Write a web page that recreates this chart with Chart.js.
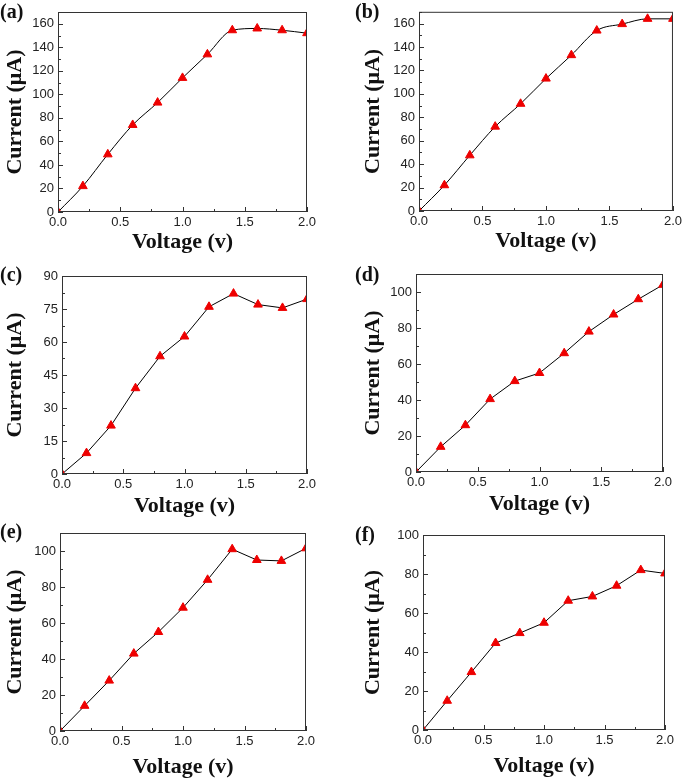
<!DOCTYPE html>
<html>
<head>
<meta charset="utf-8">
<script src="https://cdn.jsdelivr.net/npm/chart.js@4.4.1/dist/chart.umd.min.js"></script>
<style>
  html, body { margin: 0; padding: 0; background: #fff; }
  #wrap { position: relative; width: 685px; height: 782px; overflow: hidden; }
  .panel { position: absolute; }
  .tag { position: absolute; font: bold 20px "Liberation Serif", serif; color: #111; }
</style>
</head>
<body>
<div id="wrap"></div>
<script>
// Voltage sweep, same for all panels
const voltage = [0, 0.2, 0.4, 0.6, 0.8, 1.0, 1.2, 1.4, 1.6, 1.8, 2.0];

// Current (uA)
const currentA = [0, 22, 49, 74, 93, 114, 134, 154.5, 156, 154.5, 152];
const currentB = [0, 22, 47.5, 72, 91.5, 113, 133, 154, 159.5, 164, 164];
const currentC = [0, 9.5, 22, 39, 53.5, 62.5, 76, 82, 77, 75.5, 79.5];
const currentD = [0, 14, 26, 40.5, 50.5, 55, 66, 78, 87.5, 96, 104];
const currentE = [0, 14, 28, 43, 55, 68.5, 84, 101, 95, 94.5, 101.5];
const currentF = [0, 15, 29.7, 44.6, 49.7, 55, 66.3, 68.5, 74, 82, 80.3];

const panelLabels = ['(a)', '(b)', '(c)', '(d)', '(e)', '(f)'];
const yMaxes = [170, 170, 90, 110, 110, 100];
const ySteps = [20, 20, 15, 20, 20, 20];

// layout of each panel box on the page (x, y, w, h) and its plot rect
const panels = [
    { x: 0,   y: 0,   w: 342, h: 255, L: 58, R: 307, T: 12, B: 212, yTitle: 2,  xGap: 45, tag: [0, 0] },
    { x: 340, y: 0,   w: 345, h: 255, L: 79, R: 334, T: 5,  B: 211, yTitle: 20, xGap: 45, tag: [15, 0] },
    { x: 0,   y: 255, w: 342, h: 262, L: 62, R: 307, T: 21, B: 219, yTitle: 2,  xGap: 47, tag: [0, 263] },
    { x: 340, y: 255, w: 345, h: 262, L: 76, R: 323, T: 19, B: 217, yTitle: 20, xGap: 47, tag: [15, 263] },
    { x: 0,   y: 517, w: 342, h: 265, L: 60, R: 306, T: 16, B: 214, yTitle: 2,  xGap: 51, tag: [0, 520] },
    { x: 340, y: 517, w: 345, h: 265, L: 83, R: 325, T: 18, B: 213, yTitle: 20, xGap: 51, tag: [15, 523] }
];

const series = [currentA, currentB, currentC, currentD, currentE, currentF];

// frame around the plot plus inward major/minor ticks
const framePlugin = {
    id: 'frame',
    afterDraw(chart) {
        const { ctx, chartArea: a, scales } = chart;
        const xs = scales.x, ys = scales.y;
        ctx.save();
        ctx.strokeStyle = '#333';
        ctx.lineWidth = 1;
        ctx.strokeRect(a.left + 0.5, a.top + 0.5, a.right - a.left - 1, a.bottom - a.top - 1);
        ctx.beginPath();
        for (let v = 0; v <= xs.max + 1e-9; v += 0.25) {
            const px = Math.round(xs.getPixelForValue(v)) + 0.5;
            const len = (Math.abs(v / 0.5 - Math.round(v / 0.5)) < 1e-6) ? 5 : 3;
            ctx.moveTo(px, a.bottom);
            ctx.lineTo(px, a.bottom - len);
        }
        const step = ys.options.ticks.stepSize / 2;
        for (let v = 0; v <= ys.max + 1e-9; v += step) {
            const py = Math.round(ys.getPixelForValue(v)) + 0.5;
            const len = (Math.round(v / step) % 2 === 0) ? 5 : 3;
            ctx.moveTo(a.left, py);
            ctx.lineTo(a.left + len, py);
        }
        ctx.stroke();
        ctx.restore();
    }
};

const wrap = document.getElementById('wrap');

panels.forEach((p, i) => {
    const box = document.createElement('div');
    box.className = 'panel';
    box.style.left = p.x + 'px';
    box.style.top = p.y + 'px';
    box.style.width = p.w + 'px';
    box.style.height = p.h + 'px';
    const canvas = document.createElement('canvas');
    box.appendChild(canvas);
    wrap.appendChild(box);

    const tag = document.createElement('div');
    tag.className = 'tag';
    tag.textContent = panelLabels[i];
    tag.style.left = p.x + p.tag[0] + 'px';
    tag.style.top = p.tag[1] + 'px';
    wrap.appendChild(tag);

    const points = voltage.map((v, k) => ({ x: v, y: series[i][k] }));

    new Chart(canvas, {
        type: 'line',
        data: {
            datasets: [{
                data: points,
                borderColor: '#000',
                borderWidth: 1,
                tension: 0,
                cubicInterpolationMode: i < 2 ? 'monotone' : 'default',
                pointStyle: 'triangle',
                pointRadius: 5,
                pointBackgroundColor: '#ee0000',
                pointBorderColor: '#ee0000',
                pointBorderWidth: 1
            }]
        },
        options: {
            responsive: true,
            maintainAspectRatio: false,
            animation: false,
            events: [],
            layout: {
                padding: { left: 0, top: p.T, right: p.w - p.R, bottom: p.h - p.B - p.xGap }
            },
            plugins: { legend: { display: false }, tooltip: { enabled: false } },
            scales: {
                x: {
                    type: 'linear',
                    min: 0,
                    max: 2,
                    grid: { display: false, drawTicks: false },
                    border: { display: false },
                    ticks: {
                        stepSize: 0.5,
                        padding: 3,
                        color: '#222',
                        font: { family: '"Liberation Sans", Arial, sans-serif', size: 13 },
                        callback: v => v.toFixed(1)
                    },
                    title: {
                        display: true,
                        text: 'Voltage (v)',
                        color: '#111',
                        padding: { top: 0, bottom: 1 },
                        font: { family: '"Liberation Serif", "Times New Roman", serif', size: 22, weight: 'bold' }
                    },
                    afterFit: s => { s.height = p.xGap; }
                },
                y: {
                    min: 0,
                    max: yMaxes[i],
                    grid: { display: false, drawTicks: false },
                    border: { display: false },
                    ticks: {
                        stepSize: ySteps[i],
                        includeBounds: false,
                        padding: 4,
                        color: '#222',
                        font: { family: '"Liberation Sans", Arial, sans-serif', size: 13 }
                    },
                    title: {
                        display: true,
                        text: 'Current (μA)',
                        color: '#111',
                        padding: { top: p.yTitle, bottom: 0 },
                        font: { family: '"Liberation Serif", "Times New Roman", serif', size: 22, weight: 'bold' }
                    },
                    afterFit: s => { s.width = p.L; }
                }
            }
        },
        plugins: [framePlugin]
    });
});
</script>
</body>
</html>
